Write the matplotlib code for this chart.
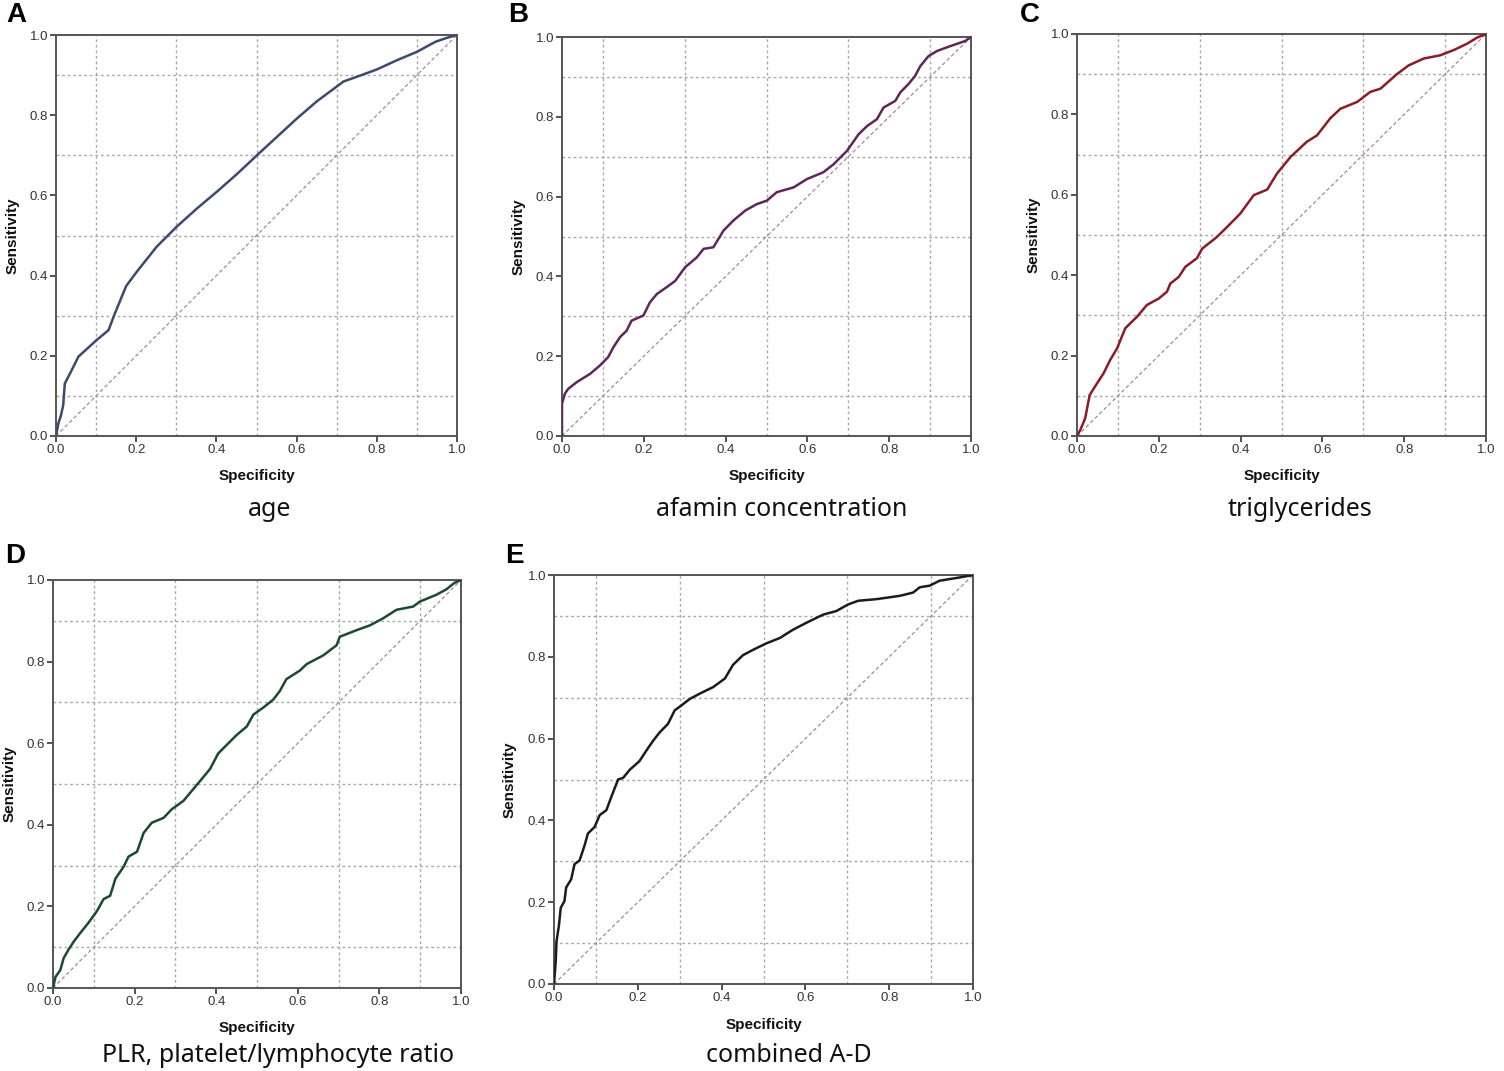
import numpy as np
import matplotlib
matplotlib.use('Agg')
import matplotlib.pyplot as plt

# ROC curves (x = 1 - specificity axis labelled "Specificity")
age_x = [0, 0.006, 0.012, 0.018, 0.022, 0.035, 0.056, 0.101, 0.131, 0.147, 0.175, 0.201,
         0.251, 0.301, 0.351, 0.401, 0.451, 0.501, 0.551, 0.601, 0.651, 0.717, 0.759,
         0.800, 0.850, 0.900, 0.946, 0.975, 1.0]
age_y = [0, 0.032, 0.05, 0.077, 0.131, 0.156, 0.198, 0.239, 0.264, 0.306, 0.374, 0.409,
         0.472, 0.522, 0.567, 0.609, 0.653, 0.700, 0.746, 0.792, 0.835, 0.884, 0.899,
         0.914, 0.937, 0.958, 0.983, 0.993, 1.0]

afamin_x = [0, 0, 0.007, 0.015, 0.036, 0.069, 0.093, 0.113, 0.126, 0.142, 0.158, 0.170,
            0.199, 0.215, 0.232, 0.256, 0.277, 0.301, 0.330, 0.346, 0.370, 0.395, 0.419,
            0.448, 0.476, 0.501, 0.525, 0.566, 0.599, 0.639, 0.664, 0.697, 0.725, 0.746,
            0.770, 0.786, 0.815, 0.827, 0.847, 0.863, 0.876, 0.896, 0.917, 0.949, 0.986, 1.0]
afamin_y = [0, 0.081, 0.106, 0.118, 0.135, 0.156, 0.177, 0.198, 0.223, 0.248, 0.264, 0.289,
            0.302, 0.335, 0.356, 0.373, 0.389, 0.423, 0.448, 0.469, 0.473, 0.515, 0.540,
            0.565, 0.581, 0.590, 0.611, 0.623, 0.644, 0.661, 0.681, 0.715, 0.756, 0.777,
            0.794, 0.823, 0.840, 0.861, 0.882, 0.902, 0.927, 0.952, 0.965, 0.977, 0.990, 1.0]

trig_x = [0, 0.008, 0.020, 0.031, 0.049, 0.065, 0.081, 0.098, 0.118, 0.147, 0.171, 0.200,
          0.220, 0.228, 0.249, 0.265, 0.293, 0.306, 0.342, 0.367, 0.399, 0.432, 0.465,
          0.489, 0.522, 0.562, 0.587, 0.619, 0.644, 0.685, 0.717, 0.742, 0.782, 0.811,
          0.848, 0.888, 0.921, 0.954, 0.978, 1.0]
trig_y = [0, 0.015, 0.044, 0.102, 0.131, 0.156, 0.189, 0.218, 0.268, 0.297, 0.326, 0.342,
          0.359, 0.379, 0.396, 0.421, 0.442, 0.466, 0.495, 0.520, 0.553, 0.599, 0.613,
          0.653, 0.694, 0.732, 0.748, 0.790, 0.814, 0.831, 0.856, 0.864, 0.900, 0.922,
          0.939, 0.947, 0.960, 0.976, 0.991, 1.0]

plr_x = [0, 0.006, 0.018, 0.026, 0.038, 0.051, 0.067, 0.087, 0.108, 0.124, 0.140, 0.153,
         0.173, 0.185, 0.206, 0.222, 0.242, 0.271, 0.291, 0.320, 0.340, 0.361, 0.385,
         0.405, 0.430, 0.450, 0.475, 0.491, 0.515, 0.540, 0.556, 0.572, 0.605, 0.622,
         0.662, 0.695, 0.703, 0.744, 0.777, 0.809, 0.842, 0.883, 0.899, 0.940, 0.964,
         0.984, 1.0]
plr_y = [0, 0.027, 0.044, 0.073, 0.094, 0.114, 0.135, 0.160, 0.189, 0.218, 0.226, 0.268,
         0.297, 0.322, 0.334, 0.380, 0.405, 0.417, 0.438, 0.459, 0.483, 0.508, 0.537,
         0.575, 0.600, 0.620, 0.641, 0.670, 0.687, 0.707, 0.728, 0.757, 0.778, 0.794,
         0.815, 0.840, 0.861, 0.877, 0.889, 0.906, 0.927, 0.935, 0.947, 0.964, 0.977,
         0.993, 1.0]

comb_x = [0, 0.004, 0.006, 0.012, 0.016, 0.025, 0.029, 0.041, 0.049, 0.061, 0.073, 0.081,
          0.097, 0.109, 0.125, 0.137, 0.153, 0.165, 0.181, 0.204, 0.220, 0.236, 0.252,
          0.272, 0.288, 0.304, 0.324, 0.348, 0.380, 0.408, 0.427, 0.451, 0.475, 0.507,
          0.539, 0.570, 0.602, 0.642, 0.674, 0.702, 0.726, 0.770, 0.825, 0.857, 0.873,
          0.897, 0.920, 0.968, 1.0]
comb_y = [0, 0.054, 0.104, 0.145, 0.186, 0.203, 0.236, 0.256, 0.293, 0.302, 0.339, 0.368,
          0.384, 0.413, 0.425, 0.458, 0.500, 0.504, 0.524, 0.545, 0.570, 0.594, 0.615,
          0.636, 0.669, 0.681, 0.697, 0.710, 0.726, 0.747, 0.780, 0.804, 0.817, 0.833,
          0.846, 0.866, 0.883, 0.903, 0.912, 0.928, 0.937, 0.941, 0.949, 0.957, 0.970,
          0.974, 0.986, 0.994, 1.0]

letters = ['A', 'B', 'C', 'D', 'E']
captions = ['age', 'afamin concentration', 'triglycerides',
            'PLR, platelet/lymphocyte ratio', 'combined A-D']
curves = [(age_x, age_y), (afamin_x, afamin_y), (trig_x, trig_y),
          (plr_x, plr_y), (comb_x, comb_y)]
colors = ['#3c4a6c', '#5f2758', '#8a1c26', '#1c4a2c', '#1c1c1c']

W, H = 1504, 1071
# axes boxes in pixels: left, top, right, bottom
boxes = [(56, 35, 457, 436), (562, 37, 971, 436), (1077, 34, 1486, 436),
         (53, 580, 461, 988), (554, 575, 973, 984)]
caption_pos = [(270, 510), (782, 510), (1300, 510), (278, 1055), (789, 1055)]
letter_pos = [(6, 2), (508, 2), (1020, 2), (5, 543), (505, 543)]

fig = plt.figure(figsize=(W / 100, H / 100), dpi=100)
plt.rcParams['font.family'] = ['Liberation Sans', 'DejaVu Sans']

ticks = np.arange(0, 1.01, 0.2)
grid_pos = [0.1, 0.3, 0.5, 0.7, 0.9]

for i in range(5):
    l, t, r, b = boxes[i]
    ax = fig.add_axes([l / W, 1 - b / H, (r - l) / W, (b - t) / H])
    ax.set_xlim(0, 1)
    ax.set_ylim(0, 1)
    for g in grid_pos:
        ax.axvline(g, color='#aaaaaa', lw=1.0, ls=(0, (2, 2)), zorder=1)
        ax.axhline(g, color='#aaaaaa', lw=1.0, ls=(0, (2, 2)), zorder=1)
    ax.plot([0, 1], [0, 1], color='#a98898', lw=0.9, ls=(0, (3, 2)), zorder=2)
    cx, cy = curves[i]
    ax.plot(cx, cy, color=colors[i], lw=1.8, zorder=3)

    ax.set_xticks(ticks)
    ax.set_yticks(ticks)
    ax.set_xticklabels(['%.1f' % v for v in ticks])
    ax.set_yticklabels(['%.1f' % v for v in ticks])
    ax.tick_params(direction='out', length=4, width=1.2, color='#333333',
                   labelsize=9.5, labelcolor='#333333', pad=1.5)
    for s in ax.spines.values():
        s.set_color('#555555')
        s.set_linewidth(1.4)

    ax.set_xlabel('Specificity', fontsize=11, fontweight='bold', color='#111111')
    ax.set_ylabel('Sensitivity', fontsize=11, fontweight='bold', color='#111111')
    ax.xaxis.set_label_coords(0.5, -0.082)
    ax.yaxis.set_label_coords(-0.09, 0.5)

    fig.text(letter_pos[i][0] / W, 1 - letter_pos[i][1] / H, letters[i],
             fontsize=20, fontweight='bold', ha='left', va='top')
    fig.text(caption_pos[i][0] / W, 1 - caption_pos[i][1] / H, captions[i],
             fontsize=18, family='Noto Sans', ha='center', va='center', color='#111111')

fig.savefig('out.png', dpi=100, facecolor='white')
